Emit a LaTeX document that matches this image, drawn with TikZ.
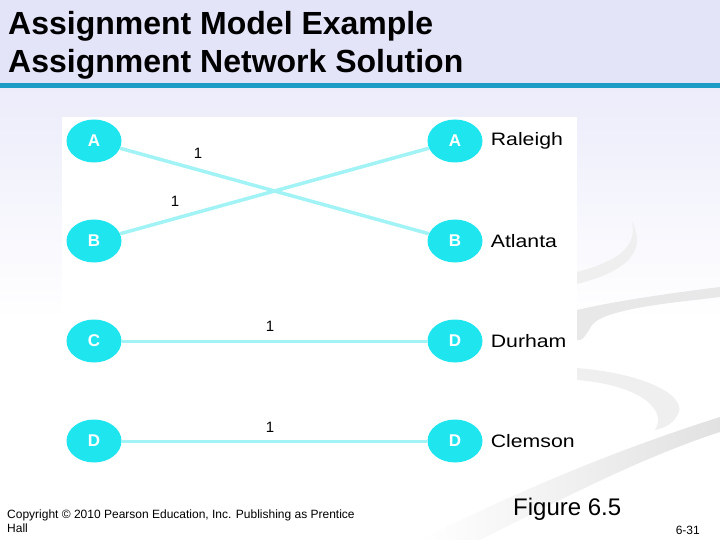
\documentclass[tikz,border=0pt]{standalone}
\usepackage{fontspec}
\setmainfont{Liberation Sans}
\usetikzlibrary{shapes.geometric,positioning}
\definecolor{nodecyan}{HTML}{1FE5EF}
\definecolor{edgecyan}{HTML}{A2F3F6}
\definecolor{barblue}{HTML}{1D9CC6}
\definecolor{headlav}{HTML}{E4E4F9}
\definecolor{swoosh}{HTML}{E8E8E8}
\begin{document}
\begin{tikzpicture}[
  x=1pt,y=-1pt,
  stop/.style={ellipse,fill=nodecyan,minimum width=55pt,minimum height=43pt,inner sep=0pt,text=white,font=\fontsize{17}{17}\selectfont\bfseries},
  city/.style={anchor=west,xscale=1.18,font=\fontsize{18}{18}\selectfont},
  link/.style={draw=edgecyan,line width=3.5pt},
  qty/.style={font=\fontsize{15}{15}\selectfont},
  title/.style={anchor=base west,font=\fontsize{32}{32}\selectfont\bfseries,inner sep=0pt}
]
\useasboundingbox (0,0) rectangle (720,540);
% background
\fill[headlav] (0,0) rectangle (720,85);
\shade[top color=headlav!70,bottom color=white] (0,88) rectangle (720,320);
\fill[barblue] (0,83) rectangle (720,88);
% swooshes
\fill[swoosh!70] (632,222) .. controls (648,252) and (625,272) .. (577,284) -- (577,272) .. controls (615,262) and (638,248) .. (632,222);
\fill[swoosh] (577,310) .. controls (620,300) and (680,292) .. (720,287) -- (720,297) .. controls (680,302) and (605,308) .. (592,325) .. controls (586,335) and (582,342) .. (577,340) -- cycle;
\fill[swoosh!70] (577,368) .. controls (650,374) and (690,398) .. (677,416) .. controls (672,424) and (665,428) .. (655,430) .. controls (668,410) and (640,385) .. (577,380) -- cycle;
\shade[left color=white,right color=swoosh!130] (420,540) .. controls (500,500) and (600,455) .. (720,417) -- (720,432) .. controls (640,458) and (560,500) .. (480,540) -- cycle;
\fill[white] (62,117) rectangle (577,465);
% title
\node[title] (t1) at (8,35) {Assignment Model Example};
\node[title] (t2) at (8,73) {Assignment Network Solution};
% network
\node[stop] (la) at (94,141) {A};
\node[stop] (lb) at (94,241) {B};
\node[stop] (lc) at (94,341) {C};
\node[stop] (ld) at (94,441) {D};
\node[stop] (ra) at (455,141) {A};
\node[stop] (rb) at (455,241) {B};
\node[stop] (rc) at (455,341) {D};
\node[stop] (rd) at (455,441) {D};
\node[city,right=4pt of ra] (raleigh) {Raleigh};
\node[city,right=4pt of rb] (atlanta) {Atlanta};
\node[city,right=4pt of rc] (durham) {Durham};
\node[city,right=4pt of rd] (clemson) {Clemson};
\draw[link] (la) -- (rb);
\draw[link] (lb) -- (ra);
\draw[link,line width=3pt] (lc) -- (rc);
\draw[link,line width=3pt] (ld) -- (rd);
\node[qty] (q1) at (198,153) {1};
\node[qty] (q2) at (175,201) {1};
\node[qty] (q3) at (270,326) {1};
\node[qty] (q4) at (270,427) {1};
% footer
\node[anchor=north west,align=left,inner sep=0pt,font=\fontsize{12}{14}\selectfont] (copy) at (7,510) {Copyright \textcopyright{} 2010 Pearson Education, Inc. Publishing as Prentice\\Hall};
\node[anchor=west,inner sep=0pt,font=\fontsize{24}{24}\selectfont] (fig) at (513,509) {Figure 6.5};
\node[anchor=east,inner sep=0pt,font=\fontsize{12}{12}\selectfont] (page) at (700,530) {6-31};
\end{tikzpicture}
\end{document}
